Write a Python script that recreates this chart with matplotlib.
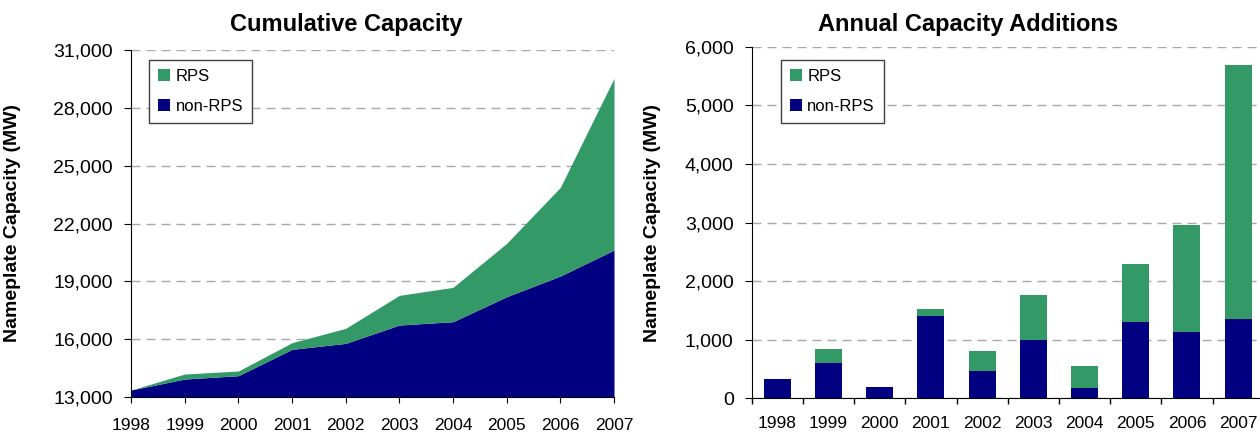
import matplotlib
matplotlib.use("Agg")
import matplotlib.pyplot as plt
from matplotlib.ticker import StrMethodFormatter, FixedLocator
from matplotlib.patches import Patch

plt.rcParams['font.family'] = ['Liberation Sans', 'DejaVu Sans']

years = [1998, 1999, 2000, 2001, 2002, 2003, 2004, 2005, 2006, 2007]
year_labels = [str(y) for y in years]

# Cumulative capacity (MW)
cum_nonrps = [13346, 13918, 14091, 15460, 15771, 16724, 16897, 18196, 19270, 20621]
cum_total = [13346, 14178, 14334, 15806, 16551, 18265, 18681, 20968, 23877, 29541]

# Annual capacity additions (MW)
add_nonrps = [330, 603, 193, 1405, 466, 995, 176, 1303, 1132, 1354]
add_rps = [0, 239, 0, 119, 342, 768, 376, 989, 1826, 4334]

GREEN = '#339966'
NAVY = '#000080'
GRID = '#A8A8A8'

W, H = 1260, 433
fig = plt.figure(figsize=(W / 100, H / 100), dpi=100)

def pos(l, t, r, b):
    return [l / W, 1 - b / H, (r - l) / W, (b - t) / H]

ax1 = fig.add_axes(pos(131, 50.3, 614, 396.7))
ax2 = fig.add_axes(pos(751.7, 46.7, 1263.7, 398.3))

# ---- Left: cumulative area ----
ax1.fill_between(years, 0, cum_nonrps, color=NAVY, lw=0, zorder=2)
ax1.fill_between(years, cum_nonrps, cum_total, color=GREEN, lw=0, zorder=2)
ax1.set_xlim(1998, 2007)
ax1.set_ylim(13000, 31000)
ax1.set_yticks(range(13000, 31001, 3000))
ax1.set_xticks(years)
ax1.set_xticklabels(year_labels)
ax1.yaxis.set_major_formatter(StrMethodFormatter('{x:,.0f}'))

# ---- Right: stacked bars ----
xs = list(range(len(years)))
ax2.bar(xs, add_nonrps, width=0.53, color=NAVY, zorder=2)
ax2.bar(xs, add_rps, width=0.53, bottom=add_nonrps, color=GREEN, zorder=2)
ax2.set_xlim(-0.5, 9.5)
ax2.set_ylim(0, 6000)
ax2.set_yticks(range(0, 6001, 1000))
ax2.yaxis.set_major_formatter(StrMethodFormatter('{x:,.0f}'))
ax2.set_xticks(xs)
ax2.set_xticklabels(year_labels)
ax2.xaxis.set_minor_locator(FixedLocator([i - 0.5 for i in range(len(years) + 1)]))
ax2.tick_params(axis='x', which='major', length=0, pad=13)
ax2.tick_params(axis='x', which='minor', length=4, width=1, direction='out', color='black')

for ax in (ax1, ax2):
    ax.spines['top'].set_visible(False)
    ax.spines['right'].set_visible(False)
    ax.spines['left'].set_color('black')
    ax.spines['bottom'].set_color('black')
    ax.set_axisbelow(True)
    ax.yaxis.grid(True, color=GRID, lw=1, dashes=(6.5, 4.3))
    ax.tick_params(axis='y', length=5, direction='out', pad=8, labelsize=14, color='black')
    ax.tick_params(axis='x', labelsize=12.5)
    ax.set_ylabel('Nameplate Capacity (MW)', fontsize=14, fontweight='bold')
ax1.tick_params(axis='x', length=4, direction='out', pad=11)

ax1.yaxis.set_label_coords((21 - 131) / (614 - 131), 0.5)
ax2.yaxis.set_label_coords((661 - 751.7) / 512, 0.5)

handles = [Patch(facecolor=GREEN, label='RPS'), Patch(facecolor=NAVY, label='non-RPS')]
leg_kw = dict(loc='upper left', fontsize=12, frameon=True, fancybox=False,
              edgecolor='#404040', framealpha=1, handlelength=0.72, handleheight=0.72,
              handletextpad=0.3, labelspacing=0.9, borderpad=0.55, borderaxespad=0)
l1 = ax1.legend(handles=handles, bbox_to_anchor=((149.3 - 131) / 483, (396.7 - 60) / 346.4), **leg_kw)
l2 = ax2.legend(handles=handles, bbox_to_anchor=((781 - 751.7) / 512, (398.3 - 60) / 351.6), **leg_kw)
for l in (l1, l2):
    l.get_frame().set_linewidth(1)

fig.text(346.5 / W, 1 - 25 / H, 'Cumulative Capacity', ha='center', va='center',
         fontsize=17, fontweight='bold')
fig.text(968 / W, 1 - 25 / H, 'Annual Capacity Additions', ha='center', va='center',
         fontsize=17, fontweight='bold')

fig.savefig('out.png', dpi=100)
